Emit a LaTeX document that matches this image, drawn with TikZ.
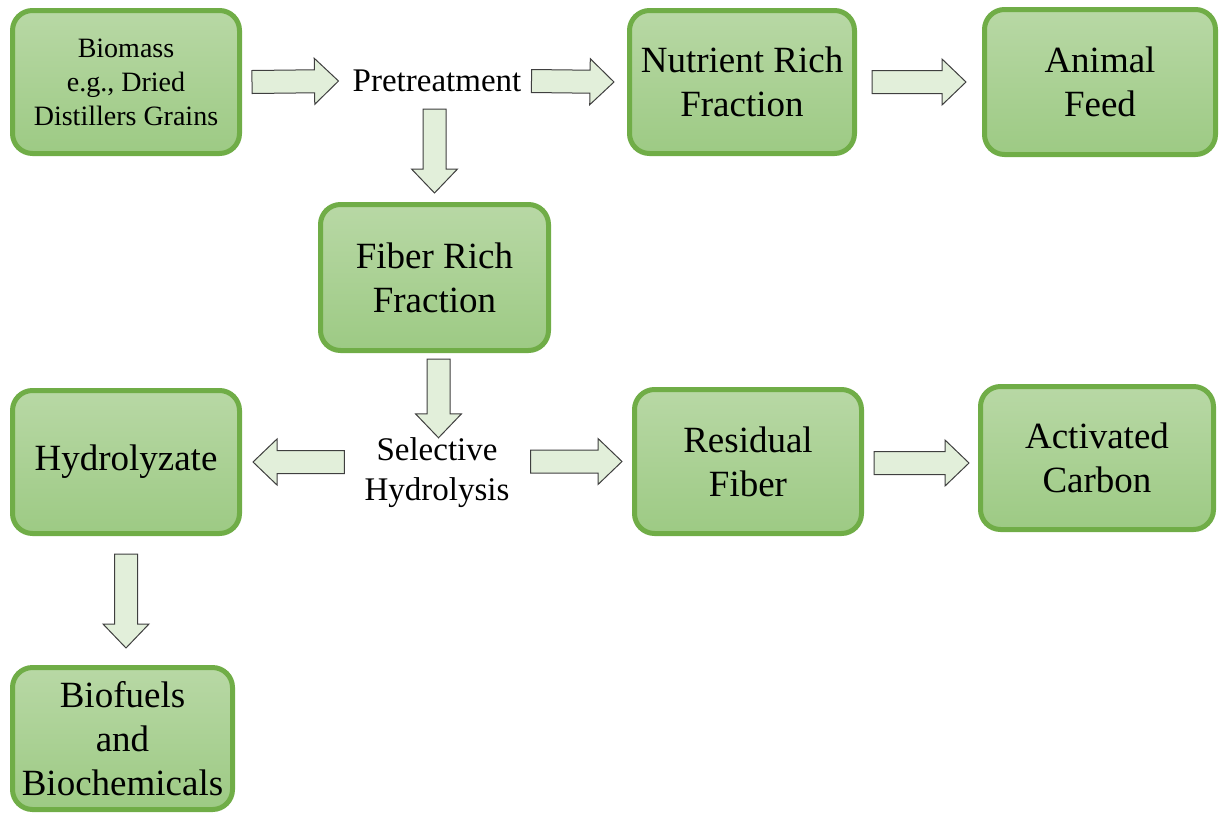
\documentclass[tikz,border=0pt]{standalone}
\usepackage{fontspec}
\setmainfont{Liberation Serif}
\newfontfamily\stagefont{Liberation Serif}
\usepackage{tikz}
\usetikzlibrary{positioning, calc}
\definecolor{stageEdge}{HTML}{70AD47}
\definecolor{stageTop}{HTML}{B8D8A5}
\definecolor{stageBot}{HTML}{9DCA84}
\definecolor{flowFill}{HTML}{E2EFDA}
\definecolor{flowLine}{HTML}{3F3F3F}

\tikzset{
  stage/.style={rounded corners=20pt, draw=stageEdge, line width=5pt,
    top color=stageTop, bottom color=stageBot, align=center, inner sep=0pt,
    font=\stagefont\fontsize{37}{44}\selectfont},
  smallstage/.style={stage, font=\stagefont\fontsize{28}{34}\selectfont},
  steplabel/.style={align=center, inner sep=0pt, font=\stagefont\fontsize{33}{40}\selectfont},
  flowarr/.style={fill=flowFill, draw=flowLine, line width=1pt, line join=miter}
}

% block arrow from #1 to #2
\newcommand{\flowarrow}[2]{%
  \draw[flowarr] let \p1=(#1), \p2=(#2), \p3=($(\p2)!24pt!(\p1)$) in
    ($(\p1)!11.5pt!90:(\p2)$) -- ($(\p3)!11.5pt!-90:(\p1)$) -- ($(\p3)!23pt!-90:(\p1)$)
    -- (\p2) -- ($(\p3)!23pt!90:(\p1)$) -- ($(\p3)!11.5pt!90:(\p1)$)
    -- ($(\p1)!11.5pt!-90:(\p2)$) -- cycle;}

\begin{document}
\begin{tikzpicture}[x=1pt,y=-1pt]
\useasboundingbox (0,0) rectangle (1227,815);

\node[smallstage, minimum width=227pt, minimum height=143pt] (bio) at (126,82)
  {Biomass\\e.g., Dried\\Distillers Grains};
\node[steplabel] (pre) at (437,81) {Pretreatment};
\node[stage, minimum width=225pt, minimum height=143pt] (nut) at (742,82) {Nutrient Rich\\Fraction};
\node[stage, minimum width=231pt, minimum height=145pt] (feed) at (1100,82) {Animal\\Feed};

\node[stage, minimum width=228pt, minimum height=146pt] (fiber) at (434.5,277.5) {Fiber Rich\\Fraction};
\node[steplabel] (sel) at (437,473) {Selective\\Hydrolysis};

\node[stage, minimum width=227pt, minimum height=143pt] (hydro) at (126,462) {Hydrolyzate};
\node[stage, minimum width=227pt, minimum height=144pt] (resid) at (748,461.5) {Residual\\Fiber};
\node[stage, minimum width=233pt, minimum height=143pt] (carbon) at (1097,458) {Activated\\Carbon};
\node[stage, minimum width=220pt, minimum height=142pt] (fuel) at (122.5,738.5) {Biofuels\\and\\Biochemicals};

\flowarrow{$(bio.east)+(10,0)$}{$(pre.west)+(-14,0)$}
\flowarrow{$(pre.east)+(10,0)$}{$(nut.west)+(-13,0)$}
\flowarrow{$(nut.east)+(15,0)$}{$(feed.west)+(-16,0)$}
\flowarrow{$(fiber.north |- pre.south)+(0,17)$}{$(fiber.north)+(0,-9)$}
\flowarrow{$(fiber.south)+(4,6)$}{$(fiber.south |- sel.north)+(4,0)$}
\flowarrow{$(sel.west |- hydro.east)+(-20,0)$}{$(hydro.east)+(11,0)$}
\flowarrow{$(sel.east |- resid.west)+(21,0)$}{$(resid.west)+(-10,0)$}
\flowarrow{$(resid.east)+(10,1.5)$}{$(carbon.west |- resid.east)+(-9,1.5)$}
\flowarrow{$(hydro.south)+(0,18)$}{$(hydro.south |- fuel.north)+(0,-17)$}
\end{tikzpicture}
\end{document}
